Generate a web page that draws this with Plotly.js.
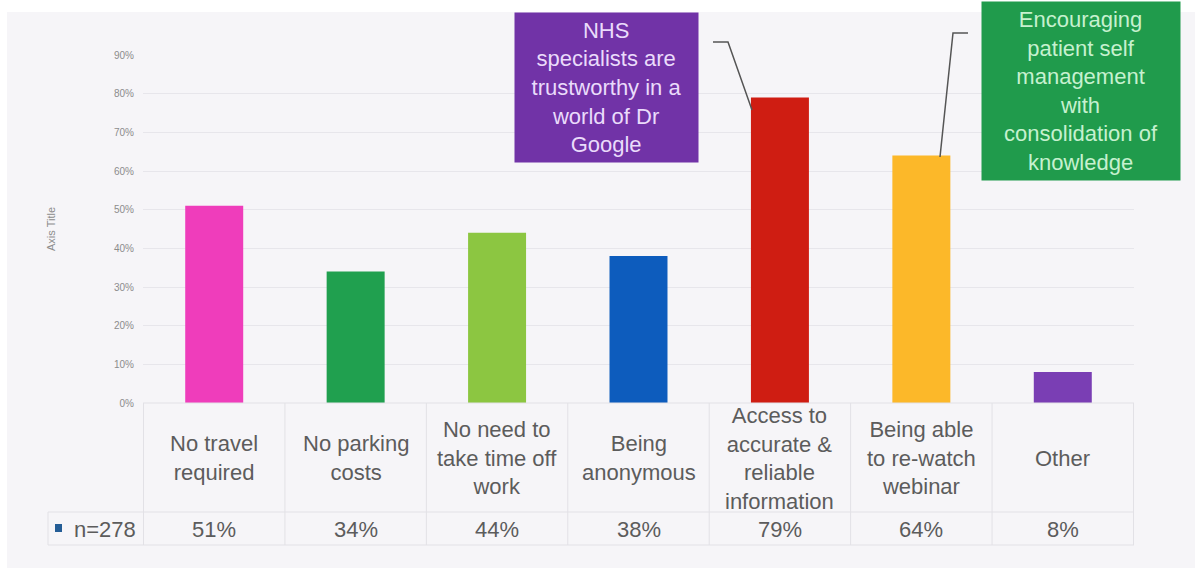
<!DOCTYPE html>
<html>
<head>
<meta charset="utf-8">
<script src="https://cdn.plot.ly/plotly-3.0.1.min.js"></script>
<style>
html,body{margin:0;padding:0;background:#ffffff;}
#chart{width:1195px;height:570px;}
</style>
</head>
<body>
<div id="chart"></div>
<script>
// ---- data ----
var categories = [
  "No travel<br>required",
  "No parking<br>costs",
  "No need to<br>take time off<br>work",
  "Being<br>anonymous",
  "Access to<br>accurate &amp;<br>reliable<br>information",
  "Being able<br>to re-watch<br>webinar",
  "Other"
];
var values = [0.51, 0.34, 0.44, 0.38, 0.79, 0.64, 0.08];
var barColors = ["#ef3dbb", "#20a04f", "#8cc641", "#0d5cbd", "#cf1d12", "#fcb829", "#7a3eb4"];
var seriesName = "n=278";
var yTickVals = [0, 0.1, 0.2, 0.3, 0.4, 0.5, 0.6, 0.7, 0.8, 0.9];
var yTickText = ["0%", "10%", "20%", "30%", "40%", "50%", "60%", "70%", "80%", "90%"];
var callout1 = "NHS<br>specialists are<br>trustworthy in a<br>world of Dr<br>Google";
var callout2 = "Encouraging<br>patient self<br>management<br>with<br>consolidation of<br>knowledge";

// ---- helpers for pixel -> paper conversion ----
var W = 1195, H = 570;
var mL = 143, mR = 61, mT = 55, mB = 167;
var pw = W - mL - mR, ph = H - mT - mB;
function px(x){ return (x - mL) / pw; }
function py(y){ return (H - mB - y) / ph; }

var FONT = "Liberation Sans, Arial, sans-serif";
var textGrey = "#5c5c5c";
var lineGrey = "#e2e1e6";

var trace = {
  type: "bar",
  x: categories,
  y: values,
  marker: {color: barColors},
  width: 0.41,
  name: seriesName,
  showlegend: false,
  hoverinfo: "skip"
};

var shapes = [];
var annotations = [];

// background panel
shapes.push({type:"rect", xref:"paper", yref:"paper", x0:px(7), x1:px(1195), y0:py(568), y1:py(12),
  fillcolor:"#f6f5f8", line:{width:0}, layer:"below"});

// table grid
var tableBottom = py(545), rowSplit = py(512);
for (var i = 0; i <= categories.length; i++) {
  shapes.push({type:"line", xref:"x", yref:"paper", x0:i-0.5, x1:i-0.5, y0:0, y1:tableBottom,
    line:{color:lineGrey, width:1}});
}
shapes.push({type:"line", xref:"paper", yref:"paper", x0:px(48), x1:1, y0:rowSplit, y1:rowSplit, line:{color:lineGrey, width:1}});
shapes.push({type:"line", xref:"paper", yref:"paper", x0:px(48), x1:1, y0:tableBottom, y1:tableBottom, line:{color:lineGrey, width:1}});
shapes.push({type:"line", xref:"paper", yref:"paper", x0:px(48), x1:px(48), y0:rowSplit, y1:tableBottom, line:{color:lineGrey, width:1}});
shapes.push({type:"line", xref:"paper", yref:"paper", x0:0, x1:1, y0:0, y1:0, line:{color:lineGrey, width:1}});

// legend key square
shapes.push({type:"rect", xref:"paper", yref:"paper", x0:px(55), x1:px(62), y0:py(532), y1:py(524),
  fillcolor:"#245d96", line:{width:0}});

// category labels and values in the table
for (var j = 0; j < categories.length; j++) {
  annotations.push({x:categories[j], xref:"x", y:0, yref:"paper", yshift:-55, yanchor:"middle",
    text:categories[j], showarrow:false, font:{family:FONT, size:22, color:textGrey}, align:"center"});
  annotations.push({x:categories[j], xref:"x", y:0, yref:"paper", yshift:-126, yanchor:"middle",
    text:Math.round(values[j]*100) + "%", showarrow:false, font:{family:FONT, size:22, color:textGrey}});
}
annotations.push({x:px(138), xref:"paper", xanchor:"right", y:0, yref:"paper", yshift:-126, yanchor:"middle",
  text:seriesName, showarrow:false, font:{family:FONT, size:22, color:textGrey}});

// callout boxes
annotations.push({x:px(606.5), y:py(87.5), xref:"paper", yref:"paper", xanchor:"center", yanchor:"middle",
  width:183, height:149, borderpad:0, bgcolor:"#7133a7", text:callout1, showarrow:false,
  font:{family:FONT, size:22, color:"#eadbfb"}, align:"center", valign:"middle"});
annotations.push({x:px(1081), y:py(91), xref:"paper", yref:"paper", xanchor:"center", yanchor:"middle",
  width:198, height:178, borderpad:0, bgcolor:"#209b4c", text:callout2, showarrow:false,
  font:{family:FONT, size:22, color:"#c6f1cf"}, align:"center", valign:"middle"});

// connectors
shapes.push({type:"path", xref:"paper", yref:"paper",
  path:"M" + px(713) + "," + py(42) + " L" + px(728) + "," + py(42) + " L" + px(752) + "," + py(110),
  line:{color:"#555555", width:1.5}});
shapes.push({type:"path", xref:"paper", yref:"paper",
  path:"M" + px(968) + "," + py(33) + " L" + px(953) + "," + py(33) + " L" + px(940) + "," + py(157),
  line:{color:"#555555", width:1.5}});

var layout = {
  width: W, height: H,
  margin: {l:mL, r:mR, t:mT, b:mB, pad:0},
  paper_bgcolor: "#ffffff",
  plot_bgcolor: "rgba(0,0,0,0)",
  bargap: 0.59,
  showlegend: false,
  font: {family: FONT},
  xaxis: {
    type: "category",
    showticklabels: false,
    showgrid: false,
    zeroline: false,
    showline: false,
    fixedrange: true
  },
  yaxis: {
    range: [0, 0.9],
    tickvals: yTickVals,
    ticktext: yTickText,
    showgrid: true,
    gridcolor: "#e7e6eb",
    gridwidth: 1,
    zeroline: false,
    showline: false,
    ticklabelstandoff: 8,
    tickfont: {family: FONT, size: 10, color: "#8c8c8c"},
    title: {text: "Axis Title", font: {family: FONT, size: 11, color: "#8c8c8c"}, standoff: 56},
    automargin: false,
    fixedrange: true
  },
  shapes: shapes,
  annotations: annotations
};

Plotly.newPlot("chart", [trace], layout, {displayModeBar: false, staticPlot: true});
</script>
</body>
</html>
